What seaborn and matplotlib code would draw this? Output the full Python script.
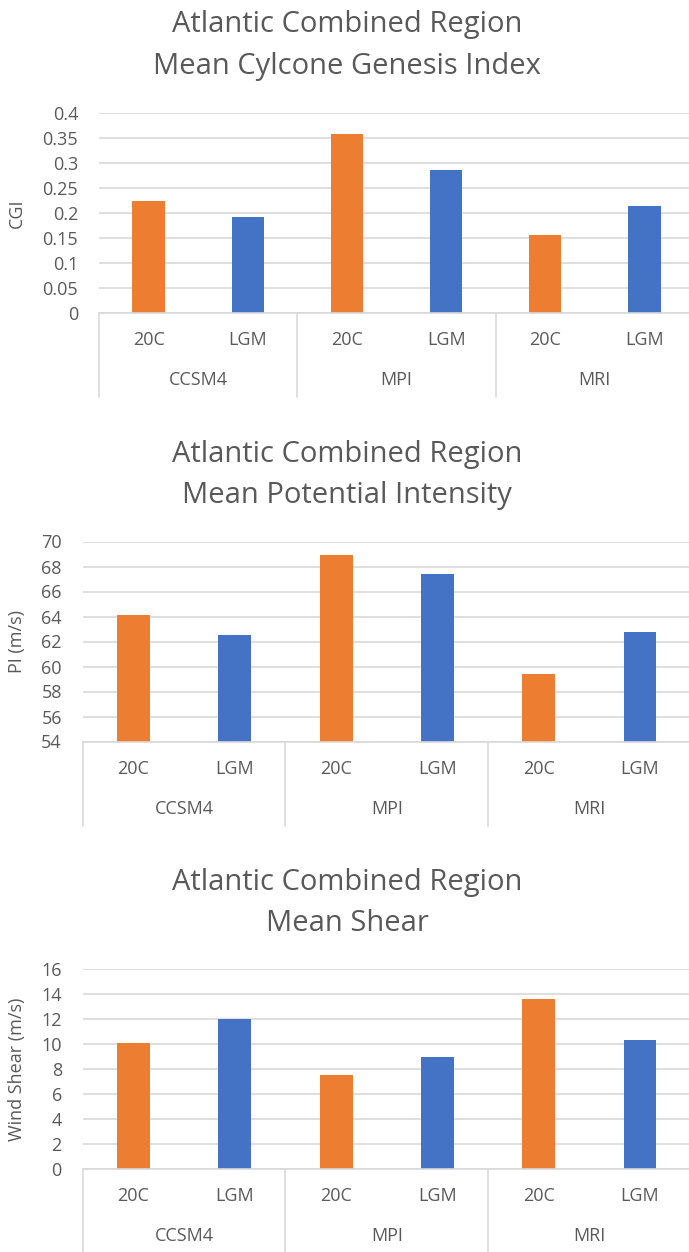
import matplotlib
matplotlib.use("Agg")
import matplotlib.pyplot as plt
import matplotlib.transforms as mtransforms
import seaborn as sns
import pandas as pd

# ---- data -------------------------------------------------------------
models = ["CCSM4", "MPI", "MRI"]
scenarios = ["20C", "LGM"]

cgi_20c = [0.225, 0.358, 0.157]
cgi_lgm = [0.193, 0.286, 0.214]

pi_20c = [64.1, 68.9, 59.4]
pi_lgm = [62.5, 67.4, 62.8]

shear_20c = [10.1, 7.55, 13.6]
shear_lgm = [12.0, 9.0, 10.3]

cgi_ticks = [0, 0.05, 0.1, 0.15, 0.2, 0.25, 0.3, 0.35, 0.4]
cgi_ticklabels = ["0", "0.05", "0.1", "0.15", "0.2", "0.25", "0.3", "0.35", "0.4"]
pi_ticks = [54, 56, 58, 60, 62, 64, 66, 68, 70]
shear_ticks = [0, 2, 4, 6, 8, 10, 12, 14, 16]

titles = [
    ("Atlantic Combined Region", "Mean Cylcone Genesis Index"),
    ("Atlantic Combined Region", "Mean Potential Intensity"),
    ("Atlantic Combined Region", "Mean Shear"),
]
ylabels = ["CGI", "PI (m/s)", "Wind Shear (m/s)"]

# ---- style ------------------------------------------------------------
sns.set_theme(style="white")
plt.rcParams["font.family"] = ["Open Sans", "DejaVu Sans"]

TEXT = "#595959"
GRID = "#d9d9d9"
palette = {"20C": "#ED7D31", "LGM": "#4472C4"}

W, H = 689, 1252
fig = plt.figure(figsize=(W / 100, H / 100), dpi=100)
fig.patch.set_facecolor("white")


def make_frame(v20, vlgm):
    rows = []
    for m, a, b in zip(models, v20, vlgm):
        rows.append({"model": m, "scenario": "20C", "key": f"{m} 20C", "value": a})
        rows.append({"model": m, "scenario": "LGM", "key": f"{m} LGM", "value": b})
    return pd.DataFrame(rows)


# (left, bottom, width, height) in pixels, title baselines
panels = [
    dict(box=(99, 313, 595, 200), title_y=(32, 74), v=(cgi_20c, cgi_lgm),
         ylim=(0, 0.4), ticks=cgi_ticks, ticklabels=cgi_ticklabels),
    dict(box=(82.7, 741.5, 608, 200), title_y=(462, 503), v=(pi_20c, pi_lgm),
         ylim=(54, 70), ticks=pi_ticks, ticklabels=[str(t) for t in pi_ticks]),
    dict(box=(82.7, 1169, 608, 200), title_y=(890, 931), v=(shear_20c, shear_lgm),
         ylim=(0, 16), ticks=shear_ticks, ticklabels=[str(t) for t in shear_ticks]),
]

for p, (t1, t2), ylab in zip(panels, titles, ylabels):
    left, bottom, width, height = p["box"]
    ax = fig.add_axes([left / W, 1 - bottom / H, width / W, height / H])
    df = make_frame(*p["v"])
    order = list(df["key"])
    sns.barplot(data=df, x="key", y="value", hue="scenario", order=order,
                palette=palette, dodge=False, width=0.325, saturation=1,
                linewidth=0, legend=False, ax=ax)

    ax.set_xlim(-0.5, len(order) - 0.5)
    ax.set_ylim(*p["ylim"])
    ax.set_yticks(p["ticks"])
    ax.set_yticklabels(p["ticklabels"])
    ax.tick_params(axis="y", length=0, pad=15, labelsize=13, labelcolor=TEXT)
    ax.set_xticks([])
    ax.set_xlabel("")
    ax.set_ylabel(ylab, fontsize=13, color=TEXT)
    ax.yaxis.set_label_coords((26 - left) / width, 0.5)

    ax.yaxis.grid(True, color=GRID, linewidth=1.2)
    ax.set_axisbelow(True)
    for side in ["left", "right", "top"]:
        ax.spines[side].set_visible(False)
    ax.spines["bottom"].set_color(GRID)
    ax.spines["bottom"].set_linewidth(1.2)

    # two-level category axis
    trans = mtransforms.blended_transform_factory(ax.transData, ax.transAxes)
    for i, key in enumerate(order):
        ax.text(i, -27 / height, key.split(" ")[1], transform=trans,
                ha="center", va="center", fontsize=13, color=TEXT)
    for j, m in enumerate(models):
        ax.text(2 * j + 0.5, -67 / height, m, transform=trans,
                ha="center", va="center", fontsize=13, color=TEXT)
    for xs in [-0.5, 1.5, 3.5, 5.5]:
        ax.plot([xs, xs], [0, -84 / height], transform=trans, color=GRID,
                linewidth=1.2, clip_on=False)

    for txt, yb in zip((t1, t2), p["title_y"]):
        fig.text(347 / W, 1 - yb / H, txt, ha="center", va="baseline",
                 fontsize=21, color=TEXT)

fig.savefig("out.png", dpi=100)
